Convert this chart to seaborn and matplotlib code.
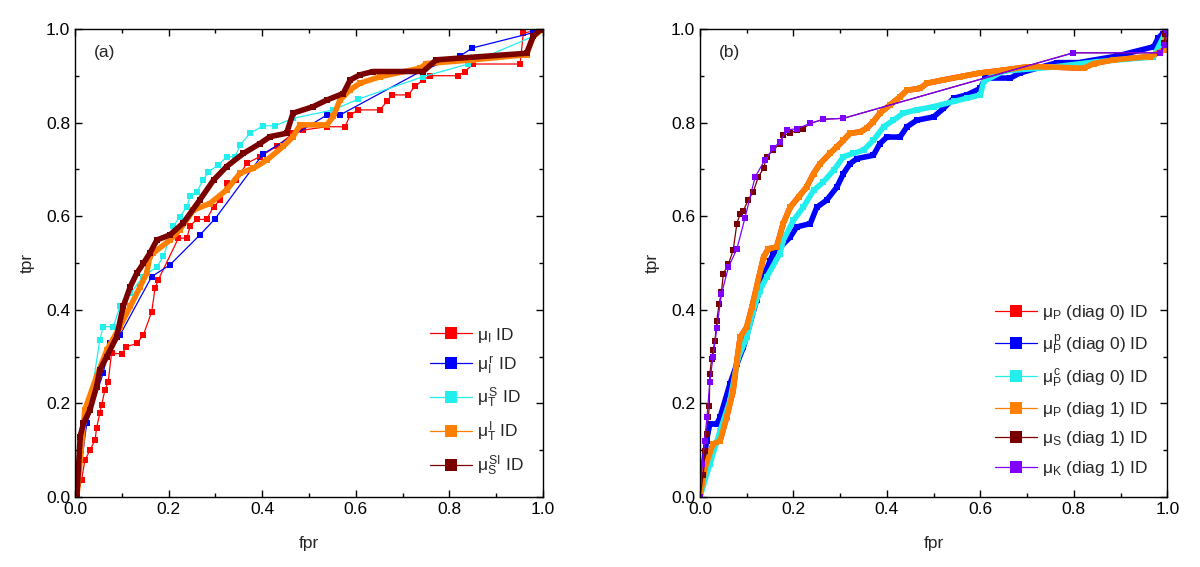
import matplotlib
matplotlib.use("Agg")
import matplotlib.pyplot as plt
import seaborn as sns
import pandas as pd
from matplotlib.lines import Line2D
from matplotlib.ticker import MultipleLocator, FormatStrFormatter

sns.set_theme(style="ticks")
plt.rcParams['font.family'] = ['Liberation Sans', 'DejaVu Sans']
plt.rcParams['mathtext.fontset'] = 'custom'
plt.rcParams['mathtext.rm'] = 'Liberation Sans'
plt.rcParams['mathtext.it'] = 'Liberation Sans'

# ---------------- Panel (a) data ----------------
a_red_fpr = [0.004, 0.014, 0.021, 0.032, 0.043, 0.046, 0.053, 0.057, 0.064, 0.071, 0.078, 0.100, 0.110, 0.132,
             0.146, 0.164, 0.171, 0.178, 0.221, 0.239, 0.246, 0.260, 0.281, 0.296, 0.310, 0.324, 0.345, 0.367,
             0.395, 0.431, 0.466, 0.488, 0.538, 0.577, 0.588, 0.605, 0.652, 0.666, 0.677, 0.712, 0.726, 0.744,
             0.759, 0.819, 0.833, 0.851, 0.951, 0.958, 1.0]
a_red_tpr = [0.0, 0.036, 0.078, 0.100, 0.122, 0.147, 0.179, 0.197, 0.229, 0.246, 0.307, 0.306, 0.321, 0.328,
             0.346, 0.396, 0.446, 0.464, 0.553, 0.553, 0.579, 0.593, 0.593, 0.620, 0.635, 0.670, 0.677, 0.713,
             0.727, 0.749, 0.777, 0.784, 0.791, 0.791, 0.816, 0.827, 0.827, 0.845, 0.859, 0.859, 0.877, 0.891,
             0.900, 0.900, 0.909, 0.925, 0.925, 0.991, 1.0]

a_blue_fpr = [0.004, 0.025, 0.060, 0.075, 0.096, 0.164, 0.203, 0.267, 0.299, 0.402, 0.538, 0.566, 0.744,
              0.823, 0.848, 0.979, 1.0]
a_blue_tpr = [0.0, 0.157, 0.264, 0.328, 0.346, 0.471, 0.496, 0.560, 0.594, 0.733, 0.816, 0.816, 0.912,
              0.942, 0.959, 0.992, 1.0]

a_cyan_fpr = [0.004, 0.011, 0.032, 0.053, 0.060, 0.082, 0.096, 0.118, 0.146, 0.175, 0.189, 0.210, 0.224,
              0.239, 0.246, 0.260, 0.274, 0.285, 0.306, 0.324, 0.342, 0.353, 0.374, 0.402, 0.427, 0.466,
              0.552, 0.605, 0.744, 0.840, 0.979, 1.0]
a_cyan_tpr = [0.0, 0.100, 0.200, 0.335, 0.364, 0.364, 0.407, 0.435, 0.471, 0.492, 0.514, 0.578, 0.599,
              0.620, 0.642, 0.652, 0.677, 0.695, 0.709, 0.727, 0.727, 0.752, 0.777, 0.793, 0.793, 0.809,
              0.827, 0.850, 0.898, 0.925, 0.984, 1.0]

a_orange_fpr = [0.004, 0.021, 0.046, 0.068, 0.096, 0.118, 0.139, 0.153, 0.160, 0.167, 0.203, 0.224, 0.253,
                0.288, 0.324, 0.353, 0.381, 0.410, 0.445, 0.466, 0.481, 0.538, 0.552, 0.566, 0.588, 0.609,
                0.652, 0.737, 0.751, 0.851, 0.965, 0.979, 1.0]
a_orange_tpr = [0.0, 0.186, 0.257, 0.314, 0.364, 0.407, 0.449, 0.478, 0.514, 0.521, 0.549, 0.571, 0.613,
                0.627, 0.656, 0.692, 0.702, 0.720, 0.749, 0.770, 0.795, 0.795, 0.813, 0.848, 0.870, 0.884,
                0.898, 0.916, 0.926, 0.934, 0.945, 0.984, 1.0]

a_maroon_fpr = [0.004, 0.011, 0.018, 0.032, 0.046, 0.053, 0.068, 0.089, 0.103, 0.118, 0.132, 0.146, 0.160,
                0.175, 0.203, 0.231, 0.267, 0.296, 0.324, 0.360, 0.395, 0.417, 0.452, 0.466, 0.509, 0.538,
                0.573, 0.588, 0.609, 0.637, 0.744, 0.772, 0.965, 0.979, 0.994, 1.0]
a_maroon_tpr = [0.0, 0.129, 0.157, 0.186, 0.236, 0.271, 0.300, 0.342, 0.407, 0.449, 0.478, 0.499, 0.521,
                0.549, 0.560, 0.585, 0.635, 0.677, 0.706, 0.734, 0.755, 0.770, 0.777, 0.820, 0.834, 0.848,
                0.862, 0.891, 0.902, 0.909, 0.909, 0.934, 0.948, 0.984, 0.998, 1.0]

# ---------------- Panel (b) data ----------------
b_orange_fpr = [0.0, 0.011, 0.028, 0.043, 0.057, 0.071, 0.079, 0.086, 0.100, 0.111, 0.121, 0.136, 0.146,
                0.164, 0.178, 0.193, 0.211, 0.228, 0.243, 0.257, 0.278, 0.293, 0.307, 0.321, 0.343, 0.357,
                0.371, 0.385, 0.407, 0.428, 0.443, 0.471, 0.486, 0.521, 0.557, 0.600, 0.650, 0.700, 0.742,
                0.821, 0.842, 0.885, 0.964, 0.992, 0.997, 1.0]
b_orange_tpr = [0.0, 0.063, 0.113, 0.120, 0.170, 0.227, 0.291, 0.341, 0.363, 0.405, 0.448, 0.512, 0.530,
                0.534, 0.584, 0.619, 0.641, 0.662, 0.691, 0.712, 0.734, 0.748, 0.762, 0.777, 0.780, 0.788,
                0.802, 0.820, 0.838, 0.855, 0.869, 0.873, 0.884, 0.891, 0.898, 0.906, 0.912, 0.919, 0.919,
                0.916, 0.926, 0.934, 0.941, 0.955, 0.990, 1.0]

b_red_fpr = list(b_orange_fpr)
b_red_tpr = list(b_orange_tpr)

b_blue_fpr = [0.0, 0.007, 0.014, 0.021, 0.036, 0.043, 0.064, 0.079, 0.093, 0.121, 0.136, 0.150, 0.157,
              0.193, 0.207, 0.236, 0.250, 0.271, 0.293, 0.307, 0.321, 0.336, 0.371, 0.385, 0.400, 0.428,
              0.443, 0.464, 0.500, 0.521, 0.543, 0.571, 0.600, 0.610, 0.664, 0.685, 0.764, 0.810, 0.892,
              0.971, 0.980, 0.990, 1.0]
b_blue_tpr = [0.0, 0.063, 0.120, 0.156, 0.156, 0.170, 0.241, 0.284, 0.320, 0.420, 0.470, 0.505, 0.520,
              0.555, 0.577, 0.584, 0.619, 0.634, 0.662, 0.691, 0.712, 0.723, 0.730, 0.755, 0.769, 0.769,
              0.791, 0.805, 0.812, 0.830, 0.852, 0.859, 0.873, 0.895, 0.895, 0.906, 0.928, 0.928, 0.942,
              0.962, 0.980, 0.990, 1.0]

b_cyan_fpr = [0.0, 0.021, 0.043, 0.064, 0.082, 0.100, 0.114, 0.128, 0.143, 0.171, 0.178, 0.200, 0.221,
              0.243, 0.264, 0.286, 0.307, 0.328, 0.350, 0.371, 0.393, 0.414, 0.435, 0.464, 0.500, 0.543,
              0.571, 0.600, 0.607, 0.650, 0.750, 0.850, 0.970, 1.0]
b_cyan_tpr = [0.0, 0.070, 0.141, 0.206, 0.298, 0.341, 0.398, 0.441, 0.470, 0.520, 0.548, 0.591, 0.619,
              0.655, 0.673, 0.698, 0.727, 0.734, 0.741, 0.762, 0.791, 0.805, 0.820, 0.827, 0.834, 0.845,
              0.852, 0.859, 0.888, 0.910, 0.918, 0.930, 0.940, 1.0]

b_maroon_fpr = [0.0, 0.007, 0.011, 0.014, 0.018, 0.020, 0.021, 0.025, 0.028, 0.032, 0.036, 0.041, 0.046,
                0.050, 0.061, 0.071, 0.079, 0.086, 0.093, 0.103, 0.114, 0.125, 0.136, 0.143, 0.157, 0.171,
                0.178, 0.193, 0.207, 0.221, 0.236, 0.264, 0.307, 0.799, 0.985, 0.993, 0.996, 1.0]
b_maroon_tpr = [0.0, 0.048, 0.098, 0.134, 0.170, 0.195, 0.263, 0.295, 0.313, 0.334, 0.377, 0.413, 0.438,
                0.477, 0.498, 0.527, 0.584, 0.605, 0.612, 0.634, 0.652, 0.684, 0.702, 0.727, 0.741, 0.755,
                0.773, 0.777, 0.784, 0.787, 0.798, 0.807, 0.809, 0.949, 0.949, 0.969, 0.990, 1.0]

b_violet_fpr = [0.0, 0.005, 0.010, 0.015, 0.021, 0.028, 0.036, 0.046, 0.061, 0.079, 0.096, 0.118, 0.139,
                0.157, 0.171, 0.186, 0.207, 0.236, 0.264, 0.307, 0.799, 0.985, 0.995, 0.999]
b_violet_tpr = [0.0, 0.070, 0.120, 0.170, 0.245, 0.300, 0.360, 0.434, 0.491, 0.530, 0.595, 0.684, 0.720,
                0.745, 0.759, 0.784, 0.787, 0.798, 0.807, 0.809, 0.949, 0.949, 0.965, 0.998]

C_RED = "#ff0000"
C_BLUE = "#0000ff"
C_CYAN = "#22eeee"
C_ORANGE = "#ff7f00"
C_MAROON = "#7a0000"
C_VIOLET = "#8000ff"

fig = plt.figure(figsize=(12, 5.67), dpi=100)
axA = fig.add_axes([0.0625, 0.1235, 0.39, 0.8255])
axB = fig.add_axes([0.5833, 0.1235, 0.3895, 0.8255])


def draw(ax, fpr, tpr, color, thick):
    df = pd.DataFrame({"fpr": fpr, "tpr": tpr})
    if thick:
        sns.lineplot(data=df, x="fpr", y="tpr", ax=ax, sort=False, estimator=None, color=color,
                     lw=4.0, marker="s", markersize=5, markeredgewidth=0, solid_joinstyle="miter")
    else:
        sns.lineplot(data=df, x="fpr", y="tpr", ax=ax, sort=False, estimator=None, color=color,
                     lw=0.9, marker="s", markersize=4, markeredgewidth=0)


draw(axA, a_red_fpr, a_red_tpr, C_RED, False)
draw(axA, a_blue_fpr, a_blue_tpr, C_BLUE, False)
draw(axA, a_cyan_fpr, a_cyan_tpr, C_CYAN, False)
draw(axA, a_orange_fpr, a_orange_tpr, C_ORANGE, True)
draw(axA, a_maroon_fpr, a_maroon_tpr, C_MAROON, True)

draw(axB, b_red_fpr, b_red_tpr, C_RED, True)
draw(axB, b_blue_fpr, b_blue_tpr, C_BLUE, True)
draw(axB, b_cyan_fpr, b_cyan_tpr, C_CYAN, True)
draw(axB, b_orange_fpr, b_orange_tpr, C_ORANGE, True)
draw(axB, b_maroon_fpr, b_maroon_tpr, C_MAROON, False)
draw(axB, b_violet_fpr, b_violet_tpr, C_VIOLET, False)

labels_a = [r"$\mathregular{\mu_I}$ ID", r"$\mathregular{\mu_I^{\,r}}$ ID", r"$\mathregular{\mu_T^{\,S}}$ ID",
            r"$\mathregular{\mu_T^{\,I}}$ ID", r"$\mathregular{\mu_S^{\,SI}}$ ID"]
colors_a = [C_RED, C_BLUE, C_CYAN, C_ORANGE, C_MAROON]
labels_b = [r"$\mathregular{\mu_P}$ (diag 0) ID", r"$\mathregular{\mu_P^{\,p}}$ (diag 0) ID",
            r"$\mathregular{\mu_P^{\,c}}$ (diag 0) ID", r"$\mathregular{\mu_P}$ (diag 1) ID",
            r"$\mathregular{\mu_S}$ (diag 1) ID", r"$\mathregular{\mu_K}$ (diag 1) ID"]
colors_b = [C_RED, C_BLUE, C_CYAN, C_ORANGE, C_MAROON, C_VIOLET]


def handles(colors):
    return [Line2D([0], [0], color=c, lw=0.9, marker="s", markersize=9, markeredgewidth=0) for c in colors]


for ax, lab, cols, labs, lsp in [(axA, "(a)", colors_a, labels_a, 0.55),
                                  (axB, "(b)", colors_b, labels_b, 0.6)]:
    ax.set_xlim(0, 1)
    ax.set_ylim(0, 1)
    ax.xaxis.set_major_locator(MultipleLocator(0.2))
    ax.xaxis.set_minor_locator(MultipleLocator(0.1))
    ax.yaxis.set_major_locator(MultipleLocator(0.2))
    ax.yaxis.set_minor_locator(MultipleLocator(0.1))
    ax.xaxis.set_major_formatter(FormatStrFormatter("%.1f"))
    ax.yaxis.set_major_formatter(FormatStrFormatter("%.1f"))
    ax.tick_params(which="both", direction="in", top=True, right=True, labelsize=12.5, width=1, colors="black")
    ax.tick_params(which="major", length=5)
    ax.tick_params(which="minor", length=3)
    for s in ax.spines.values():
        s.set_visible(True)
        s.set_linewidth(1.0)
        s.set_color("black")
    ax.set_xlabel("fpr", fontsize=12.5, labelpad=14)
    ax.set_ylabel("tpr", fontsize=12.5, labelpad=8)
    ax.text(0.04, 0.94, lab, transform=ax.transAxes, fontsize=12.5)
    ax.legend(handles(cols), labs, loc="lower right", bbox_to_anchor=(1.0, 0.0), frameon=False,
              fontsize=12.5, handlelength=2.4, handletextpad=0.3, labelspacing=lsp,
              borderaxespad=0.7)

fig.savefig("out.png", dpi=100)
